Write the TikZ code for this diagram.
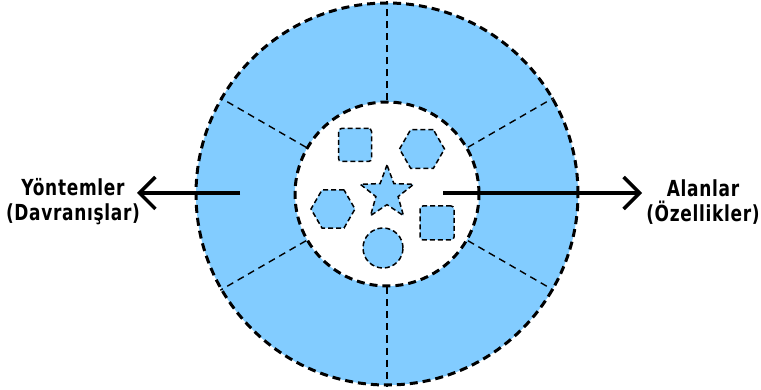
\documentclass[tikz,border=0pt]{standalone}
\usepackage{fontspec}
\setmainfont{DejaVu Sans}
\newfontfamily\lblfont[LetterSpace=4]{DejaVu Sans}
\usepackage{tikz}
\usetikzlibrary{arrows.meta,shapes.geometric}
\definecolor{ring_blue}{RGB}{130,204,255}
\newcommand{\tallword}[1]{\scalebox{1}[1.3]{#1}}

\begin{document}
\begin{tikzpicture}[x=1pt, y=-1pt,
          ringline/.style={draw=black, line width=3pt, dash pattern=on 8pt off 5pt},
          cutline/.style={draw=black, line width=1.4pt, dash pattern=on 7pt off 5pt},
          item/.style={draw=black, fill=ring_blue, line width=1.5pt,
                       dash pattern=on 5pt off 3pt, inner sep=0pt},
          lbl/.style={font=\lblfont\fontsize{17}{25}\selectfont\bfseries, align=center},
          bigarrow/.style={line width=3.4pt, -{Straight Barb[length=16pt,width=32pt]}}]
        \useasboundingbox (0,0) rectangle (761,390);
        \coordinate (c) at (387,194);
        \node[circle, minimum size=382pt, fill=ring_blue, ringline] (outer) at (c) {};
        \node[circle, minimum size=184pt, fill=white, ringline] (inner) at (c) {};
        \foreach \a in {30,90,...,330}
          \draw[cutline] (inner.\a) -- (outer.\a);
        % objects inside the core
        \node[item, rectangle, rounded corners=3pt, minimum size=33pt] (sqa) at (355,145) {};
        \node[item, regular polygon, regular polygon sides=6, minimum size=45pt] (hexa) at (422,149) {};
        \node[item, star, star points=5, star point ratio=2.4, minimum size=56pt] (st) at (387,193) {};
        \node[item, regular polygon, regular polygon sides=6, minimum size=44pt] (hexb) at (333,209) {};
        \node[item, rectangle, rounded corners=3pt, minimum size=34pt] (sqb) at (437,223) {};
        \node[item, circle, minimum size=40pt] (dot) at (383,248) {};
        % labels
        \node[lbl] (meth) at (73,202) {\tallword{Yöntemler}\\\tallword{(Davranışlar)}};
        \node[lbl] (attr) at (703,202) {\tallword{Alanlar}\\\tallword{(Özellikler)}};
        \coordinate (lfrom) at (240,193);
        \coordinate (lto) at (137,193);
        \coordinate (rfrom) at (443,193);
        \coordinate (rto) at (642,193);
        \draw[bigarrow] (lfrom) -- (lto);
        \draw[bigarrow] (rfrom) -- (rto);
      \end{tikzpicture}
\end{document}
